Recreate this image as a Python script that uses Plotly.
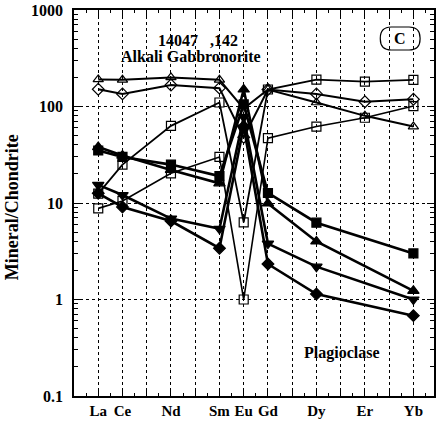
import plotly.graph_objects as go

# ---- data ----
elements = ["La", "Ce", "Nd", "Sm", "Eu", "Gd", "Dy", "Er", "Yb"]
atomic_numbers = [57, 58, 60, 62, 63, 64, 66, 68, 70]

open_triangle = [191, 189, 200, 189, 95, 150, 110, 80, 62]
open_diamond = [151, 135, 167, 155, 48, 150, 135, 112, 119]
open_square_a = [12.5, 25, 63, 110, 6.3, 150, 190, 181, 189]
open_square_b = [8.8, 10.5, 20.3, 30, 1.0, 47, 62, 76.5, 101]
plag_square = [35, 30, 25, 19, 105, 12.7, 6.25, None, 3.0]
plag_triangle = [38, 31, 22, 16, 150, 9.9, 4.0, None, 1.23]
plag_triangle_down = [15.4, 12.1, 6.9, 5.4, 78, 3.8, 2.19, None, 1.0]
plag_diamond = [12.6, 9.1, 6.5, 3.4, 62, 2.33, 1.14, None, 0.68]

all_z = list(range(57, 71))
z_names = {57: "La", 58: "Ce", 60: "Nd", 62: "Sm", 63: "Eu", 64: "Gd",
           66: "Dy", 68: "Er", 70: "Yb"}
x_ticktext = [z_names.get(z, "") for z in all_z]
y_tickvals = [0.1, 1, 10, 100, 1000]
y_ticktext = ["0.1", "1", "10", "100", "1000"]

series = [
    (open_square_b, "square-open", 1.6, 9),
    (open_square_a, "square-open", 1.8, 9),
    (open_diamond, "diamond-open", 2.0, 9),
    (open_triangle, "triangle-up-open", 2.0, 9),
    (plag_diamond, "diamond", 2.6, 9),
    (plag_triangle_down, "triangle-down", 2.6, 10),
    (plag_triangle, "triangle-up", 2.6, 10),
    (plag_square, "square", 2.6, 9),
]

FONT = "Liberation Serif"

fig = go.Figure()
for vals, sym, lw, ms in series:
    fig.add_trace(go.Scatter(
        x=atomic_numbers, y=vals, mode="lines+markers", connectgaps=True,
        line=dict(color="black", width=lw),
        marker=dict(symbol=sym, size=ms, color="black",
                    line=dict(color="black", width=1.2)),
        showlegend=False, hoverinfo="skip"))

W, H = 437, 428
L, R, T, B = 74, 1, 10, 32
pw, ph = W - L - R, H - T - B


def px(x, y):
    return (x - L) / pw, (H - B - y) / ph


def P(x, y):
    a, b = px(x, y)
    return f"{a:.5f},{b:.5f}"


# rounded box around "C"
x0, x1, y0, y1, r = 382, 422, 27, 50, 11
path = (f"M {P(x0+r, y0)} L {P(x1-r, y0)} Q {P(x1, y0)} {P(x1, y0+r)} "
        f"L {P(x1, y1-r)} Q {P(x1, y1)} {P(x1-r, y1)} L {P(x0+r, y1)} "
        f"Q {P(x0, y1)} {P(x0, y1-r)} L {P(x0, y0+r)} Q {P(x0, y0)} {P(x0+r, y0)} Z")
fig.add_shape(type="path", path=path, xref="paper", yref="paper",
              line=dict(color="black", width=1.2))

bold = dict(family=FONT, size=16, color="black", weight="bold")


def note(x, y, text, font=bold, angle=0):
    a, b = px(x, y)
    fig.add_annotation(x=a, y=b, xref="paper", yref="paper", text=text,
                       showarrow=False, font=font, textangle=angle,
                       xanchor="center", yanchor="middle")


note(402, 38.5, "C")
note(199, 40, "14047   ,142")
note(192, 57, "Alkali Gabbronorite")
note(343, 353, "Plagioclase")
note(12, 207, "Mineral/Chondrite",
     font=dict(family=FONT, size=18, color="black", weight="bold"), angle=-90)

minor_y = [m * 10 ** e for e in range(-1, 3) for m in range(2, 10)]
minor_x = [z + 0.5 for z in range(56, 71)]

fig.update_layout(
    width=W, height=H, margin=dict(l=L, r=R, t=T, b=B),
    paper_bgcolor="white", plot_bgcolor="white",
    font=dict(family=FONT, color="black"),
    xaxis=dict(
        range=[56, 70.85], tickmode="array", tickvals=all_z, ticktext=x_ticktext,
        ticks="inside", ticklen=6, tickwidth=1, tickcolor="black",
        showline=True, linecolor="black", linewidth=1.5, mirror="ticks",
        showgrid=True, gridcolor="black", griddash="dot", gridwidth=1,
        zeroline=False,
        tickfont=dict(family=FONT, size=15, color="black", weight="bold"),
        minor=dict(tickmode="array", tickvals=minor_x, ticks="inside",
                   ticklen=3, tickcolor="black", showgrid=False),
    ),
    yaxis=dict(
        type="log", range=[-1, 3], tickmode="array", tickvals=y_tickvals,
        ticktext=y_ticktext, ticks="inside", ticklen=7, tickwidth=1,
        tickcolor="black",
        showline=True, linecolor="black", linewidth=1.5, mirror="ticks",
        showgrid=True, gridcolor="black", griddash="dot", gridwidth=1,
        zeroline=False, ticklabelstandoff=6,
        tickfont=dict(family=FONT, size=16, color="black", weight="bold"),
        minor=dict(tickmode="array", tickvals=minor_y, ticks="inside",
                   ticklen=4, tickcolor="black", showgrid=False),
    ),
)

fig.write_html("out.html")
